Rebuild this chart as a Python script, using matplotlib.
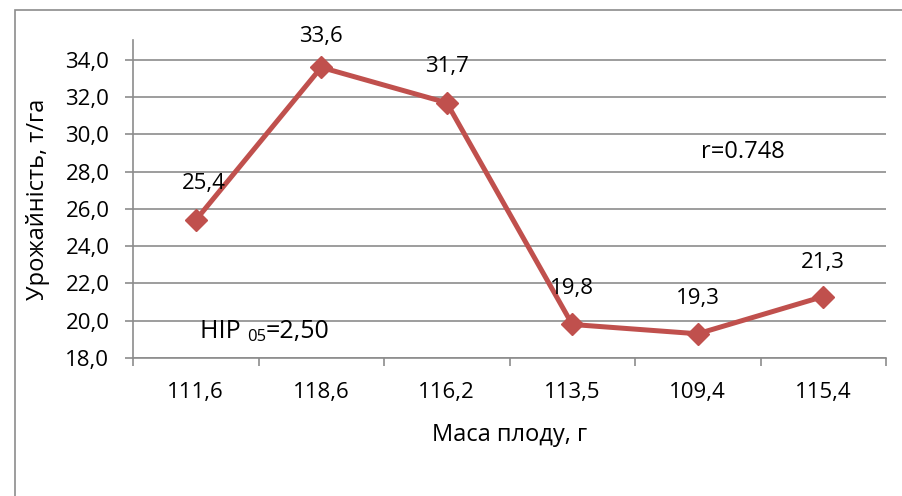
import matplotlib.pyplot as plt

categories = ['111,6', '118,6', '116,2', '113,5', '109,4', '115,4']
yield_vals = [25.4, 33.6, 31.7, 19.8, 19.3, 21.3]
yticks = [18, 20, 22, 24, 26, 28, 30, 32, 34]

plt.rcParams['font.family'] = ['Open Sans', 'DejaVu Sans']

fig = plt.figure(figsize=(9.03, 4.96), dpi=100)
ax = fig.add_axes([133 / 903, 1 - 358 / 496, 753 / 903, 318 / 496])

red = '#C0504D'
grey = '#8C8C8C'
x = list(range(len(categories)))
ax.plot(x, yield_vals, color=red, linewidth=3.6, marker='D', markersize=11,
        zorder=3, clip_on=False)

# label offsets in pixels (dx, dy above the point)
offsets = [(8, 37), (0, 31), (0, 36), (0, 36), (0, 35), (0, 34)]
for xi, v, off in zip(x, yield_vals, offsets):
    ax.annotate(f'{v:.1f}'.replace('.', ','), (xi, v),
                xytext=(off[0] * 0.72, off[1] * 0.72),
                textcoords='offset points', ha='center', va='center',
                fontsize=16)

ax.set_xlim(-0.5, len(categories) - 0.5)
ax.set_ylim(18, 35.07)
ax.set_yticks(yticks)
ax.set_yticklabels([f'{t:.1f}'.replace('.', ',') for t in yticks], fontsize=16)
ax.set_xticks(x)
ax.set_xticklabels(categories, fontsize=16)
ax.tick_params(axis='x', length=0, pad=17)
ax.tick_params(axis='y', length=6, color=grey, width=1.2, pad=11)

# category boundary ticks
ax.set_xticks([i - 0.5 for i in range(len(categories) + 1)], minor=True)
ax.tick_params(axis='x', which='minor', length=6, color=grey, width=1.2)

ax.grid(True, axis='y', color=grey, linewidth=1.2)
for s in ['top', 'right']:
    ax.spines[s].set_visible(False)
for s in ['left', 'bottom']:
    ax.spines[s].set_color(grey)
    ax.spines[s].set_linewidth(1.2)

ax.set_ylabel('Урожайність, т/га', fontsize=17, va='center')
ax.yaxis.set_label_coords((38 - 133) / 753, 0.5)
ax.set_xlabel('Маса плоду, г', fontsize=17, va='center')
ax.xaxis.set_label_coords(0.5, (358 - 435) / 318)

ax.text(4.36, 29.06, 'r=0.748', fontsize=17, ha='center', va='center')

t1 = ax.text(0.03, 19.08, 'НІР ', fontsize=18, ha='left', va='baseline')
t2 = ax.annotate('05', xy=(1, 0), xycoords=t1, xytext=(0, -1),
                 textcoords='offset points', fontsize=12, ha='left', va='bottom')
ax.annotate('=2,50', xy=(1, 0), xycoords=(t2, t1), fontsize=18,
            ha='left', va='bottom')

# outer chart border (cropped on right/bottom)
fig.patches.append(plt.Rectangle((15 / 903, -0.1), 1.1, 1 - 10 / 496 + 0.1,
                                 transform=fig.transFigure, fill=False,
                                 edgecolor=grey, linewidth=1.2))

fig.savefig('out.png', dpi=100)
